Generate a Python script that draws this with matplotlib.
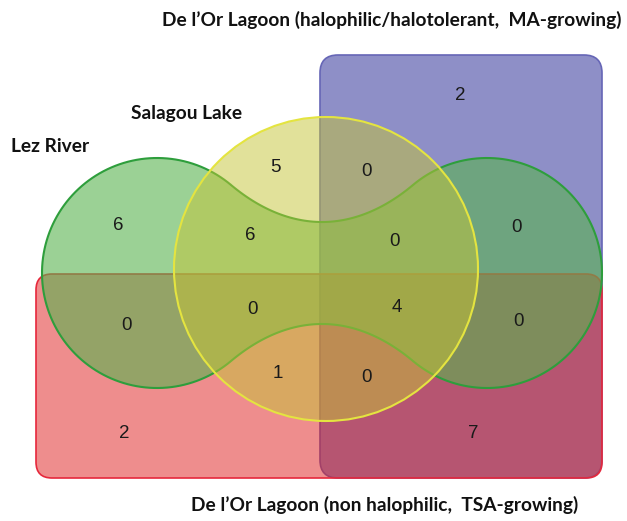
import numpy as np
import matplotlib
matplotlib.use("Agg")
import matplotlib.pyplot as plt
from matplotlib.patches import FancyBboxPatch, Circle, Polygon

# set names
SET_MA = "De l\u2019Or Lagoon (halophilic/halotolerant,  MA-growing)"
SET_TSA = "De l\u2019Or Lagoon (non halophilic,  TSA-growing)"
SET_SAL = "Salagou Lake"
SET_LEZ = "Lez River"

# region membership (Lez, Salagou, MA, TSA) and counts
regions = ["M", "S", "SM", "L", "LS", "LSM", "LM",
           "LT", "LST", "LSMT", "LMT", "ST", "SMT", "T", "MT"]
counts = [2, 5, 0, 6, 6, 0, 0,
          0, 0, 4, 0, 1, 0, 2, 7]

# label anchor per region (pixel layout)
POS = {"M": (460, 95), "S": (275, 168), "SM": (367, 172), "L": (118, 225),
       "LS": (250, 236), "LSM": (395, 242), "LM": (517, 227), "LT": (126, 326),
       "LST": (253, 310), "LSMT": (397, 308), "LMT": (518, 321), "ST": (278, 373),
       "SMT": (367, 378), "T": (124, 433), "MT": (473, 433)}


def bez(p0, p1, p2, p3, n=40):
    t = np.linspace(0, 1, n)[:, None]
    return ((1 - t) ** 3 * p0 + 3 * (1 - t) ** 2 * t * p1
            + 3 * (1 - t) * t ** 2 * p2 + t ** 3 * p3)


def lez_shape(cxl=157, cxr=487, cy=273, r=115, dip=51, phi=50, k=25, m=40):
    """dumbbell: two lobes joined by a waist (y axis points down)"""
    a = np.radians(phi)
    xm = (cxl + cxr) / 2
    tang = np.array([np.sin(a), np.cos(a)])
    p0 = np.array([cxl + r * np.cos(a), cy - r * np.sin(a)])
    top_l = bez(p0, p0 + k * tang, np.array([xm - m, cy - dip]), np.array([xm, cy - dip]))
    top_r = top_l[::-1].copy()
    top_r[:, 0] = 2 * xm - top_r[:, 0]
    ang = np.radians(np.linspace(180 - phi, -(180 - phi), 120))
    arc_r = np.c_[cxr + r * np.cos(ang), cy - r * np.sin(ang)]

    def flip_y(p):
        q = p.copy()
        q[:, 1] = 2 * cy - q[:, 1]
        return q

    bot_r = flip_y(top_r)[::-1]
    bot_l = flip_y(top_l)[::-1]
    ang = np.radians(np.linspace(-phi, -360 + phi, 120))
    arc_l = np.c_[cxl + r * np.cos(ang), cy - r * np.sin(ang)]
    return np.vstack([top_l, top_r, arc_r, bot_r, bot_l, arc_l])


fig = plt.figure(figsize=(6.27, 5.21), dpi=100)
ax = fig.add_axes([0, 0, 1, 1])
ax.set_xlim(0, 627)
ax.set_ylim(521, 0)
ax.axis("off")

ax.add_patch(FancyBboxPatch((320, 55), 282, 423, boxstyle="round,pad=0,rounding_size=18",
                            fc=(0.12, 0.13, 0.57, 0.5), ec="#6666b6", lw=1.2, zorder=1))
ax.add_patch(FancyBboxPatch((36, 274), 566, 204, boxstyle="round,pad=0,rounding_size=16",
                            fc=(0.87, 0.11, 0.11, 0.5), ec="#e6283c", lw=1.2, zorder=2))
ax.add_patch(Polygon(lez_shape(), closed=True, fc=(0.35, 0.70, 0.31, 0.6),
                     ec="#2e9e3c", lw=1.5, zorder=3))
ax.add_patch(Circle((326, 269), 152, fc=(0.77, 0.77, 0.21, 0.5), ec="#e4e440",
                    lw=1.5, zorder=4))

for reg, n in zip(regions, counts):
    x, y = POS[reg]
    ax.text(x, y, str(n), ha="center", va="center", fontsize=13.5,
            family="Liberation Sans", color="#1a1a1a", zorder=6)

lab = dict(fontsize=13.8, fontweight="bold", family="Lato", color="#111111",
           va="center", ha="center")
ax.text(392, 20, SET_MA, **lab)
ax.text(385, 505, SET_TSA, **lab)
ax.text(187, 113, SET_SAL, **lab)
ax.text(50, 147, SET_LEZ, **lab)

fig.savefig("out.png", dpi=100)
